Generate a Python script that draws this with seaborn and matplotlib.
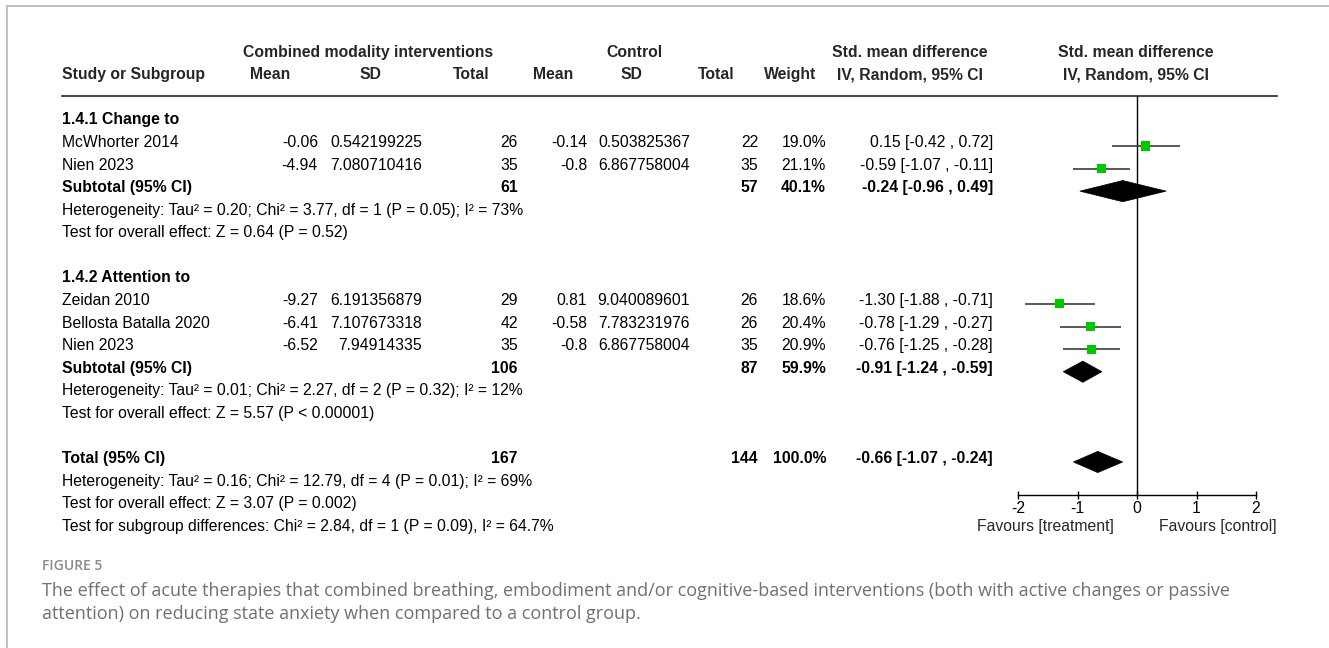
import numpy as np
import pandas as pd
import seaborn as sns
import matplotlib.pyplot as plt
from matplotlib.patches import Polygon

# ---- data ----
studies = ["McWhorter 2014", "Nien 2023", "Zeidan 2010", "Bellosta Batalla 2020", "Nien 2023"]
study_group = [0, 0, 1, 1, 1]
exp_mean = [-0.06, -4.94, -9.27, -6.41, -6.52]
exp_sd = [0.542199225, 7.080710416, 6.191356879, 7.107673318, 7.94914335]
exp_n = [26, 35, 29, 42, 35]
ctl_mean = [-0.14, -0.8, 0.81, -0.58, -0.8]
ctl_sd = [0.503825367, 6.867758004, 9.040089601, 7.783231976, 6.867758004]
ctl_n = [22, 35, 26, 26, 35]
weight = [19.0, 21.1, 18.6, 20.4, 20.9]
smd = [0.15, -0.59, -1.30, -0.78, -0.76]
ci_lo = [-0.42, -1.07, -1.88, -1.29, -1.25]
ci_hi = [0.72, -0.11, -0.71, -0.27, -0.28]

groups = ["1.4.1 Change to", "1.4.2 Attention to"]
sub_exp_n = [61, 106]
sub_ctl_n = [57, 87]
sub_weight = [40.1, 59.9]
sub_smd = [-0.24, -0.91]
sub_lo = [-0.96, -1.24]
sub_hi = [0.49, -0.59]
sub_het = ["Heterogeneity: Tau² = 0.20; Chi² = 3.77, df = 1 (P = 0.05); I² = 73%",
           "Heterogeneity: Tau² = 0.01; Chi² = 2.27, df = 2 (P = 0.32); I² = 12%"]
sub_z = ["Test for overall effect: Z = 0.64 (P = 0.52)",
         "Test for overall effect: Z = 5.57 (P < 0.00001)"]

tot_exp_n = 167
tot_ctl_n = 144
tot_weight = 100.0
tot_smd = -0.66
tot_lo = -1.07
tot_hi = -0.24
tot_notes = ["Heterogeneity: Tau² = 0.16; Chi² = 12.79, df = 4 (P = 0.01); I² = 69%",
             "Test for overall effect: Z = 3.07 (P = 0.002)",
             "Test for subgroup differences: Chi² = 2.84, df = 1 (P = 0.09), I² = 64.7%"]

xticks = [-2, -1, 0, 1, 2]
xtick_labels = ["-2", "-1", "0", "1", "2"]

caption_head = "FIGURE 5"
caption = ["The effect of acute therapies that combined breathing, embodiment and/or cognitive-based interventions (both with active changes or passive",
           "attention) on reducing state anxiety when compared to a control group."]

# ---- layout (pixels) ----
W, H = 1329, 648
ROW0, DY = 146, 22.57
FS = 11.3
COL = dict(name=62, em=318, esd=422, en=518, cm=587, csd=690, cn=758, w=826, ci=993)

sns.set_theme(style="white")
plt.rcParams['font.family'] = ['Liberation Sans', 'DejaVu Sans']

fig = plt.figure(figsize=(W / 100, H / 100), dpi=100)
tab = fig.add_axes([0, 0, 1, 1])
tab.set_xlim(0, W)
tab.set_ylim(H, 0)
tab.axis('off')


def put(x, r, s, ha='right', bold=False):
    tab.text(x, ROW0 + r * DY + 1, s, ha=ha, va='baseline', fontsize=FS,
             fontweight='bold' if bold else 'normal', color='black')


def ci_txt(m, a, b):
    return f"{m:.2f} [{a:.2f} , {b:.2f}]"


# headers
for x, s in [(368, "Combined modality interventions"), (634, "Control"),
             (910, "Std. mean difference"), (1136, "Std. mean difference")]:
    tab.text(x, 57, s, ha='center', va='baseline', fontsize=FS, fontweight='bold')
tab.text(62, 79, "Study or Subgroup", ha='left', va='baseline', fontsize=FS, fontweight='bold')
for x, s in [(270, "Mean"), (370, "SD"), (471, "Total"), (553, "Mean"), (631, "SD"),
             (716, "Total"), (790, "Weight"), (910, "IV, Random, 95% CI"), (1136, "IV, Random, 95% CI")]:
    tab.text(x, 79, s, ha='center', va='baseline', fontsize=FS, fontweight='bold')
tab.plot([62, 1277], [96, 96], color='#4a4a4a', lw=1.5)

# frame of the figure panel
tab.plot([7, W], [6, 6], color='#b5b5b5', lw=1.2)
tab.plot([7, 7], [6, H], color='#b5b5b5', lw=1.2)

# table rows
study_rows = []
sub_rows = []
r = -1
for g, gname in enumerate(groups):
    put(COL['name'], r, gname, ha='left', bold=True)
    r += 1
    for i in range(len(studies)):
        if study_group[i] != g:
            continue
        put(COL['name'], r, studies[i], ha='left')
        put(COL['em'], r, f"{exp_mean[i]:g}")
        put(COL['esd'], r, f"{exp_sd[i]:.10g}")
        put(COL['en'], r, str(exp_n[i]))
        put(COL['cm'], r, f"{ctl_mean[i]:g}")
        put(COL['csd'], r, f"{ctl_sd[i]:.10g}")
        put(COL['cn'], r, str(ctl_n[i]))
        put(COL['w'], r, f"{weight[i]:.1f}%")
        put(COL['ci'], r, ci_txt(smd[i], ci_lo[i], ci_hi[i]))
        study_rows.append(r)
        r += 1
    put(COL['name'], r, "Subtotal (95% CI)", ha='left', bold=True)
    put(COL['en'], r, str(sub_exp_n[g]), bold=True)
    put(COL['cn'], r, str(sub_ctl_n[g]), bold=True)
    put(COL['w'], r, f"{sub_weight[g]:.1f}%", bold=True)
    put(COL['ci'], r, ci_txt(sub_smd[g], sub_lo[g], sub_hi[g]), bold=True)
    sub_rows.append(r)
    put(COL['name'], r + 1, sub_het[g], ha='left')
    put(COL['name'], r + 2, sub_z[g], ha='left')
    r += 4

tot_row = r
put(COL['name'], tot_row, "Total (95% CI)", ha='left', bold=True)
put(COL['en'], tot_row, str(tot_exp_n), bold=True)
put(COL['cn'], tot_row, str(tot_ctl_n), bold=True)
put(COL['w'], tot_row, f"{tot_weight:.1f}%", bold=True)
put(COL['ci'], tot_row, ci_txt(tot_smd, tot_lo, tot_hi), bold=True)
for k, s in enumerate(tot_notes):
    put(COL['name'], tot_row + 1 + k, s, ha='left')

# ---- forest panel ----
ax = fig.add_axes([1018 / W, 1 - 495 / H, (1256 - 1018) / W, (495 - 96) / H])
ax.patch.set_alpha(0)
ax.axvline(0, color='black', lw=1, zorder=1)
ax.hlines(study_rows, ci_lo, ci_hi, color='#3c3c3c', lw=1.2, zorder=2)
df = pd.DataFrame({'smd': smd, 'row': study_rows})
sns.scatterplot(data=df, x='smd', y='row', marker='s', s=42, color='#00c800',
                edgecolor='none', legend=False, ax=ax, zorder=3)

hh = 0.47
for m, a, b, rr in zip(sub_smd + [tot_smd], sub_lo + [tot_lo], sub_hi + [tot_hi], sub_rows + [tot_row]):
    ax.add_patch(Polygon([(a, rr), (m, rr - hh), (b, rr), (m, rr + hh)], closed=True,
                         fc='black', ec='black', lw=0.5, zorder=3))

ax.set_xlim(-2, 2)
ax.set_ylim((495 - ROW0) / DY, (96 - ROW0) / DY)
ax.set_xlabel('')
ax.set_ylabel('')
ax.set_yticks([])
ax.set_xticks(xticks)
ax.set_xticklabels(xtick_labels)
for side in ['top', 'left', 'right']:
    ax.spines[side].set_visible(False)
ax.spines['bottom'].set_bounds(-2, 2)
ax.spines['bottom'].set_color('black')
ax.spines['bottom'].set_linewidth(1)
ax.tick_params(axis='x', direction='inout', length=6, width=1, pad=1,
               labelsize=FS, colors='black', bottom=True)

tab.text(1045, 531, "Favours [treatment]", ha='center', va='baseline', fontsize=FS)
tab.text(1218, 531, "Favours [control]", ha='center', va='baseline', fontsize=FS)

# caption
tab.text(42, 570, caption_head, ha='left', va='baseline', fontsize=10,
         color='#8a8a8a', fontweight='semibold', family=['Open Sans', 'DejaVu Sans'])
for k, s in enumerate(caption):
    tab.text(42, 596 + 23 * k, s, ha='left', va='baseline', fontsize=13,
             color='#707070', family=['Open Sans', 'DejaVu Sans'])

fig.savefig('out.png', dpi=100)
